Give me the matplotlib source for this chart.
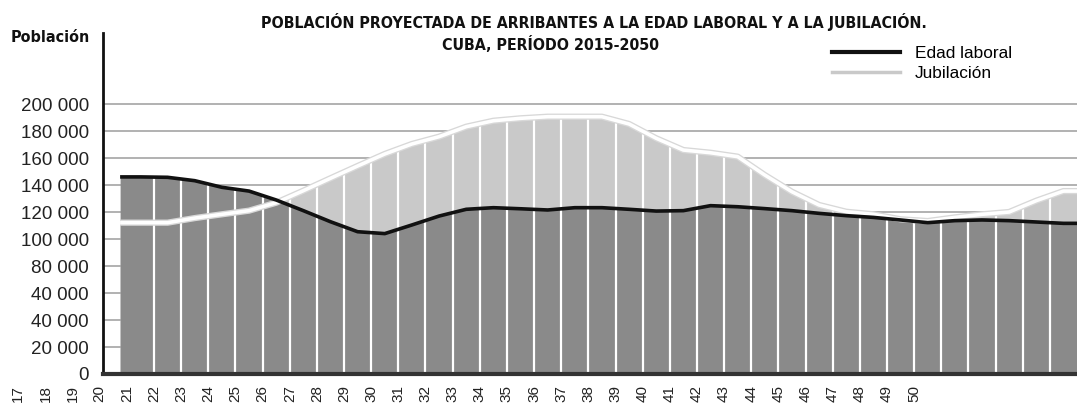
import numpy as np
import matplotlib
matplotlib.use("Agg")
import matplotlib.pyplot as plt
from matplotlib import font_manager as fm
from matplotlib.lines import Line2D
from matplotlib.transforms import ScaledTranslation, blended_transform_factory
import matplotlib.patheffects as pe

# values, one per bar (left to right)
edad_laboral = [146000, 145700, 143200, 138300, 135500, 128900, 121000, 112800, 105400, 104000,
                110400, 117000, 122000, 123200, 122400, 121500, 123200, 123200, 122000, 120700,
                121000, 124700, 123900, 122500, 121000, 119000, 117300, 116000, 114100, 112100,
                113600, 114100, 113600, 112600, 111600]
jubilacion = [112100, 112100, 115500, 118300, 121000, 126900, 135800, 145000, 154100, 163000,
              170400, 175800, 183200, 187600, 189400, 190600, 190600, 190600, 185200, 174600,
              165900, 163900, 161000, 147400, 135000, 125200, 120200, 118300, 114600, 113300,
              116000, 118300, 120000, 128400, 135500]

x_labels = [str(n) for n in range(17, 51)]
y_values = list(range(0, 200001, 20000))
y_labels = ["0", "20 000", "40 000", "40 000", "80 000", "100 000",
            "120 000", "140 000", "160 000", "180 000", "200 000"]

REG = ["Liberation Sans", "DejaVu Sans"]
DARK = "#8a8a8a"
LIGHT = "#c9c9c9"


def condensed_bold():
    # look for any narrow / condensed bold face that happens to be installed
    for f in fm.fontManager.ttflist:
        narrow = ("Narrow" in f.name or "Condensed" in f.name
                  or f.stretch in ("condensed", "semi-condensed", "extra-condensed"))
        if narrow and f.weight in (700, "bold"):
            return fm.FontProperties(fname=f.fname)
    return fm.FontProperties(family=REG, weight="bold")


def fit_width(txt, target_px, renderer):
    w = txt.get_window_extent(renderer).width
    txt.set_fontsize(txt.get_fontsize() * target_px / w)


fig = plt.figure(figsize=(10.77, 4.03), dpi=100)
W, H = 1077, 403
ax = fig.add_axes([103 / W, 29 / H, (W - 103) / W, (374 - 33) / H])

x = np.arange(len(edad_laboral))
x0, x1 = -0.75, len(edad_laboral) - 0.5
xs = np.concatenate([[x0], x, [x1]])
e = np.array(edad_laboral, dtype=float)
j = np.array(jubilacion, dtype=float)
es = np.concatenate([[e[0]], e, [e[-1]]])
js = np.concatenate([[j[0]], j, [j[-1]]])

ax.fill_between(xs, 0, js, color=LIGHT, lw=0, zorder=2)
ax.fill_between(xs, 0, es, color=DARK, lw=0, zorder=3)

# white separators between the years
xb = np.arange(0.5, len(edad_laboral) - 0.5, 1.0)
tops = np.maximum(np.interp(xb, xs, es), np.interp(xb, xs, js))
ax.vlines(xb, 0, tops, color="white", lw=1.6, zorder=4)

ax.plot(xs, js, color="white", lw=2.6, zorder=5, solid_capstyle="butt",
        path_effects=[pe.Stroke(linewidth=4.5, foreground="#d8d8d8"), pe.Normal()])
ax.plot(xs, es, color="#111111", lw=2.6, zorder=6, solid_capstyle="butt")

ax.set_xlim(-1.38, x1)
ax.set_ylim(0, 252600)

ax.set_yticks(y_values)
ax.set_yticklabels(y_labels, fontsize=13.5, family=REG, color="#222222")
off = ScaledTranslation(0, 0.12, fig.dpi_scale_trans)
for lab in ax.get_yticklabels():
    lab.set_transform(lab.get_transform() + off)
ax.tick_params(axis="y", length=0, pad=10)
ax.set_xticks([])
ax.yaxis.grid(True, color="#9c9c9c", lw=1.1)
ax.set_axisbelow(True)

for s in ["top", "right"]:
    ax.spines[s].set_visible(False)
ax.spines["left"].set_linewidth(2)
ax.spines["left"].set_color("#111111")
ax.spines["bottom"].set_linewidth(3)
ax.spines["bottom"].set_color("#333333")
ax.spines["bottom"].set_zorder(7)

# x labels, shifted against the bars as in the original
trans = blended_transform_factory(ax.transData, ax.transAxes)
for i, lab in enumerate(x_labels):
    ax.text(i - 4.5, -0.033, lab, transform=trans, rotation=90, ha="center", va="top",
            fontsize=11, family=REG, color="#222222", clip_on=False)

bold = condensed_bold()
t1 = fig.text(594 / W, 1 - 22 / H,
              "POBLACIÓN PROYECTADA DE ARRIBANTES A LA EDAD LABORAL Y A LA JUBILACIÓN.",
              ha="center", va="center", fontproperties=bold, fontsize=13.2, color="#111111")
t2 = fig.text(551 / W, 1 - 45 / H, "CUBA, PERÍODO 2015-2050",
              ha="center", va="center", fontproperties=bold, fontsize=13.2, color="#111111")
t3 = fig.text(50 / W, 1 - 38 / H, "Población", ha="center", va="center",
              fontproperties=bold, fontsize=14, color="#111111")

handles = [Line2D([], [], color="#111111", lw=3),
           Line2D([], [], color=LIGHT, lw=2.5)]
ax.legend(handles, ["Edad laboral", "Jubilación"], loc="upper left",
          bbox_to_anchor=(832 / W, 1 - 46 / H), bbox_transform=fig.transFigure,
          frameon=False, borderpad=0, borderaxespad=0, handlelength=3.95,
          handletextpad=0.85, labelspacing=0.3,
          prop={"family": REG, "size": 12.4})

renderer = fig.canvas.get_renderer()
fit_width(t1, 672, renderer)
t2.set_fontsize(t1.get_fontsize())
fit_width(t3, 80, renderer)

fig.savefig("out.png", dpi=100)
